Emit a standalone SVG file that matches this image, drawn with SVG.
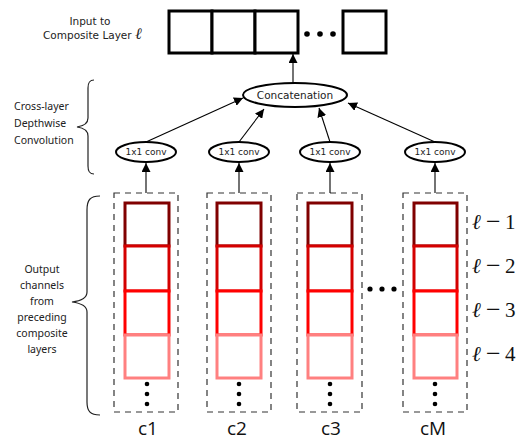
<svg xmlns="http://www.w3.org/2000/svg" width="525" height="441" viewBox="0 0 525 441">
<defs>
<style>
.lbl{font-family:"DejaVu Sans",sans-serif;font-size:10.5px;fill:#222}
.side{font-family:"Noto Sans","Open Sans",sans-serif;font-size:10.5px;fill:#222}
.conv{font-family:"DejaVu Sans",sans-serif;font-size:9px;fill:#222;text-anchor:middle}
.col{font-family:"Open Sans","Noto Sans",sans-serif;font-size:19px;fill:#111;text-anchor:middle}
.ell{font-family:"Liberation Serif","DejaVu Serif",serif;font-size:21px;fill:#111}
.box{fill:#fff;stroke:#000;stroke-width:3}
.ov{fill:#fff;stroke:#000;stroke-width:2}
.dash{fill:none;stroke:#333;stroke-width:1.2;stroke-dasharray:6,5}
.c1{fill:#fff;stroke:#800000;stroke-width:3}
.c2{fill:#fff;stroke:#d40000;stroke-width:3}
.c3{fill:#fff;stroke:#ff0000;stroke-width:3}
.c4{fill:#fff;stroke:#ff8080;stroke-width:3}
.brace{fill:none;stroke:#222;stroke-width:1.2}
.edge{fill:none;stroke:#000;stroke-width:1.1}
.dot{fill:#000}
</style>
<marker id="ah" viewBox="0 0 10 10" refX="10" refY="5" markerWidth="9" markerHeight="9" markerUnits="userSpaceOnUse" orient="auto">
<path d="M0,0 L10,5 L0,10 z" fill="#000"/>
</marker>
</defs>

<g id="input-label">
<text class="lbl" x="90" y="25" text-anchor="middle">Input to</text>
<text class="lbl" x="43" y="39">Composite Layer <tspan font-family="Liberation Serif,serif" font-style="italic" font-size="16">ℓ</tspan></text>
</g>

<g id="input-layer">
<rect class="box" x="169" y="11" width="43" height="42"/>
<rect class="box" x="212" y="11" width="43" height="42"/>
<rect class="box" x="255" y="11" width="43" height="42"/>
<circle class="dot" cx="307" cy="34" r="2.8"/>
<circle class="dot" cx="320" cy="34" r="2.8"/>
<circle class="dot" cx="333" cy="34" r="2.8"/>
<rect class="box" x="343" y="11" width="43" height="42"/>
</g>

<g id="cross-layer-label">
<text class="side" x="14" y="110">Cross-layer</text>
<text class="side" x="14" y="127">Depthwise</text>
<text class="side" x="14" y="144">Convolution</text>
<path class="brace" d="M94,80 C89,80 88,83 88,88 L88,118 C88,123 84,126 77,127 C84,128 88,131 88,136 L88,166 C88,171 89,174 94,174"/>
</g>

<g id="concat">
<ellipse class="ov" cx="295" cy="95" rx="52" ry="12"/>
<text class="lbl" x="295" y="99" text-anchor="middle">Concatenation</text>
</g>

<g id="conv1"><ellipse class="ov" cx="146" cy="152" rx="30" ry="10"/><text class="conv" x="146" y="155">1x1 conv</text></g>
<g id="conv2"><ellipse class="ov" cx="239" cy="152" rx="30" ry="10"/><text class="conv" x="239" y="155">1x1 conv</text></g>
<g id="conv3"><ellipse class="ov" cx="330" cy="152" rx="30" ry="10"/><text class="conv" x="330" y="155">1x1 conv</text></g>
<g id="convM"><ellipse class="ov" cx="435" cy="152" rx="30" ry="10"/><text class="conv" x="435" y="155">1x1 conv</text></g>

<g id="output-label">
<text class="side" text-anchor="middle" x="42" y="273">Output</text>
<text class="side" text-anchor="middle" x="42" y="289">channels</text>
<text class="side" text-anchor="middle" x="42" y="305">from</text>
<text class="side" text-anchor="middle" x="42" y="321">preceding</text>
<text class="side" text-anchor="middle" x="42" y="337">composite</text>
<text class="side" text-anchor="middle" x="42" y="353">layers</text>
<path class="brace" d="M100,196 C90,196 87,200 87,210 L87,292 C87,298 80,301 72,302 C80,303 87,306 87,312 L87,402 C87,411 90,415 100,415"/>
</g>

<g id="col1">
<rect class="dash" x="114" y="193" width="64" height="219"/>
<rect class="c1" x="125" y="203" width="44" height="43"/>
<rect class="c2" x="125" y="246" width="44" height="45"/>
<rect class="c3" x="125" y="291" width="44" height="44"/>
<rect class="c4" x="125" y="335" width="44" height="43"/>
<circle class="dot" cx="147" cy="384" r="2.3"/><circle class="dot" cx="147" cy="394" r="2.3"/><circle class="dot" cx="147" cy="404" r="2.3"/>
<text class="col" x="148" y="435">c1</text>
</g>
<g id="col2">
<rect class="dash" x="207" y="193" width="64" height="219"/>
<rect class="c1" x="217" y="203" width="44" height="43"/>
<rect class="c2" x="217" y="246" width="44" height="45"/>
<rect class="c3" x="217" y="291" width="44" height="44"/>
<rect class="c4" x="217" y="335" width="44" height="43"/>
<circle class="dot" cx="239" cy="384" r="2.3"/><circle class="dot" cx="239" cy="394" r="2.3"/><circle class="dot" cx="239" cy="404" r="2.3"/>
<text class="col" x="237" y="435">c2</text>
</g>
<g id="col3">
<rect class="dash" x="297" y="193" width="65" height="219"/>
<rect class="c1" x="308" y="203" width="44" height="43"/>
<rect class="c2" x="308" y="246" width="44" height="45"/>
<rect class="c3" x="308" y="291" width="44" height="44"/>
<rect class="c4" x="308" y="335" width="44" height="43"/>
<circle class="dot" cx="330" cy="384" r="2.3"/><circle class="dot" cx="330" cy="394" r="2.3"/><circle class="dot" cx="330" cy="404" r="2.3"/>
<text class="col" x="331" y="435">c3</text>
</g>
<g id="gap-dots">
<circle class="dot" cx="370" cy="289" r="2.6"/><circle class="dot" cx="382" cy="289" r="2.6"/><circle class="dot" cx="394" cy="289" r="2.6"/>
</g>
<g id="colM">
<rect class="dash" x="403" y="193" width="64" height="219"/>
<rect class="c1" x="414" y="203" width="43" height="43"/>
<rect class="c2" x="414" y="246" width="43" height="45"/>
<rect class="c3" x="414" y="291" width="43" height="44"/>
<rect class="c4" x="414" y="335" width="43" height="43"/>
<circle class="dot" cx="435" cy="384" r="2.3"/><circle class="dot" cx="435" cy="394" r="2.3"/><circle class="dot" cx="435" cy="404" r="2.3"/>
<text class="col" x="433" y="435">cM</text>
</g>

<g id="layer-labels">
<text class="ell" y="229"><tspan x="472" font-style="italic">ℓ</tspan><tspan x="486" font-size="26" dy="1">−</tspan><tspan x="505" dy="-1">1</tspan></text>
<text class="ell" y="273"><tspan x="472" font-style="italic">ℓ</tspan><tspan x="486" font-size="26" dy="1">−</tspan><tspan x="505" dy="-1">2</tspan></text>
<text class="ell" y="317"><tspan x="472" font-style="italic">ℓ</tspan><tspan x="486" font-size="26" dy="1">−</tspan><tspan x="505" dy="-1">3</tspan></text>
<text class="ell" y="361"><tspan x="472" font-style="italic">ℓ</tspan><tspan x="486" font-size="26" dy="1">−</tspan><tspan x="505" dy="-1">4</tspan></text>
</g>

<g id="connectors">
<line class="edge" x1="293" y1="83" x2="293" y2="54" marker-end="url(#ah)"/>
<line class="edge" x1="146" y1="142" x2="243" y2="98" marker-end="url(#ah)"/>
<line class="edge" x1="239" y1="142" x2="264" y2="109" marker-end="url(#ah)"/>
<line class="edge" x1="330" y1="142" x2="319" y2="108" marker-end="url(#ah)"/>
<line class="edge" x1="435" y1="142" x2="348" y2="103" marker-end="url(#ah)"/>
<line class="edge" x1="146" y1="193" x2="146" y2="163" marker-end="url(#ah)"/>
<line class="edge" x1="239" y1="193" x2="239" y2="163" marker-end="url(#ah)"/>
<line class="edge" x1="330" y1="193" x2="330" y2="163" marker-end="url(#ah)"/>
<line class="edge" x1="435" y1="193" x2="435" y2="163" marker-end="url(#ah)"/>
</g>
</svg>
